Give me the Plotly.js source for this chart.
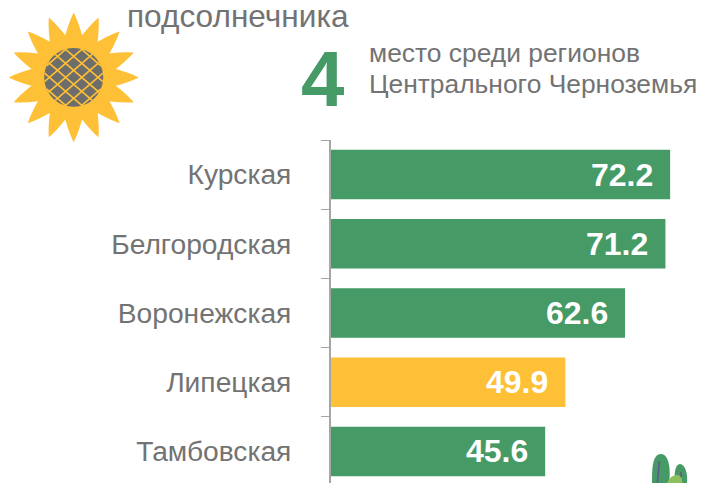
<!DOCTYPE html>
<html>
<head>
<meta charset="utf-8">
<script src="https://cdn.plot.ly/plotly-3.0.1.min.js"></script>
<style>html,body{margin:0;padding:0;background:#fff;overflow:hidden}</style>
</head>
<body>
<div id="chart" style="width:705px;height:483px"></div>
<script>
const regions = ['Курская', 'Белгородская', 'Воронежская', 'Липецкая', 'Тамбовская'];
const values = [72.2, 71.2, 62.6, 49.9, 45.6];
const highlighted = 'Липецкая';
const titleText = 'подсолнечника';
const rankText = '4';
const noteLine1 = 'место среди регионов';
const noteLine2 = 'Центрального Черноземья';

const W = 705, H = 483;
const GREEN = '#459a66', YELLOW = '#fec036', GRAY = '#737373', DISC = '#6d6e6b';
const FONT = '"Liberation Sans", Arial, sans-serif';
const m = {l: 331, r: 0, t: 139.5, b: 0};
const pw = W - m.l - m.r, ph = H - m.t - m.b;
const X = x => (x - m.l) / pw;
const Y = y => 1 - (y - m.t) / ph;
const P = (x, y) => X(x).toFixed(5) + ',' + Y(y).toFixed(5);

const shapes = [];
function add(path, fill, line, width) {
  shapes.push({type: 'path', xref: 'paper', yref: 'paper', layer: 'above', path: path,
    fillcolor: fill || 'rgba(0,0,0,0)', line: {color: line || 'rgba(0,0,0,0)', width: width || 0}});
}
/* sunflower */
const cx = 73.7, cy = 76.8, n = 16;
let d = '';
for (let i = 0; i < n; i++) {
  const a = -Math.PI / 2 + i * 2 * Math.PI / n, h = Math.PI / n;
  const pol = (r, t) => P(cx + r * Math.cos(t), cy + r * Math.sin(t));
  d += (i ? 'L' : 'M') + pol(43, a - h);
  d += 'Q' + pol(56, a - h * 0.42) + ' ' + pol(65, a);
  d += 'Q' + pol(56, a + h * 0.42) + ' ' + pol(43, a + h);
}
add(d + 'Z', YELLOW);
/* seed disc */
const R = 29.5;
let c = 'M' + P(cx + R, cy);
for (let i = 1; i <= 48; i++) {
  const t = i / 48 * 2 * Math.PI;
  c += 'L' + P(cx + R * Math.cos(t), cy + R * Math.sin(t));
}
add(c + 'Z', DISC);
/* lattice */
[Math.PI / 4.4, -Math.PI / 4.4].forEach(t => {
  const ux = Math.cos(t), uy = Math.sin(t), nx = -uy, ny = ux;
  for (let k = -2.5; k <= 2.5; k++) {
    const o = k * 10.6, half = Math.sqrt(R * R - o * o);
    add('M' + P(cx + nx * o - ux * half, cy + ny * o - uy * half) +
        'L' + P(cx + nx * o + ux * half, cy + ny * o + uy * half), null, YELLOW, 1.6);
  }
});
/* leaves, bottom right */
add('M' + P(652, 483) + 'C' + P(652, 470) + ' ' + P(652, 454) + ' ' + P(661, 454) +
    'C' + P(669, 454) + ' ' + P(671, 470) + ' ' + P(669, 483) + 'Z', GREEN);
add('M' + P(675, 483) + 'C' + P(674, 474) + ' ' + P(675, 464) + ' ' + P(680, 464) +
    'C' + P(685, 464) + ' ' + P(688, 474) + ' ' + P(687, 483) + 'Z', GREEN);
add('M' + P(667, 483) + 'C' + P(669, 478) + ' ' + P(673, 475) + ' ' + P(677, 475) +
    'C' + P(681, 475) + ' ' + P(683, 480) + ' ' + P(682, 483) + 'Z', '#8cc05e');
add('M' + P(659.3, 461) + 'L' + P(657.4, 483), null, '#5f5a90', 1.6);
add('M' + P(681, 472) + 'L' + P(681, 477), null, '#5f5a90', 1.6);

const textAnn = (text, x, y, size, color) => ({
  text: text, xref: 'paper', yref: 'paper', x: X(x), y: Y(y), showarrow: false,
  xanchor: 'left', yanchor: 'middle', align: 'left',
  font: {family: FONT, size: size, color: color}
});

const annotations = [
  textAnn(titleText, 125, 15.5, 31.6, GRAY),
  textAnn('<b>' + rankText + '</b>', 299, 78, 78, GREEN),
  textAnn(noteLine1, 367, 52, 26.4, GRAY),
  textAnn(noteLine2, 367, 83, 26.4, GRAY)
];
regions.forEach((r, i) => annotations.push({
  x: values[i], y: r, xref: 'x', yref: 'y', text: '<b>' + values[i].toFixed(1) + '</b>',
  showarrow: false, xanchor: 'right', yanchor: 'middle', xshift: -15.5,
  font: {family: FONT, size: 32, color: '#ffffff'}
}));

Plotly.newPlot('chart', [{
  type: 'bar', orientation: 'h', y: regions, x: values,
  width: 0.715,
  marker: {color: regions.map(r => r === highlighted ? YELLOW : GREEN), line: {width: 0}},
  hoverinfo: 'skip'
}], {
  width: W, height: H, margin: m, paper_bgcolor: '#fff', plot_bgcolor: '#fff',
  showlegend: false, shapes: shapes, annotations: annotations,
  xaxis: {visible: false, range: [0, pw / 4.697], fixedrange: true},
  yaxis: {
    type: 'category', categoryorder: 'array', categoryarray: regions,
    range: [ -0.5 + ph / 69.3, -0.5], tickson: 'boundaries', ticks: 'outside', ticklen: 8,
    tickcolor: '#a6a6a6', tickwidth: 1, showline: true, linecolor: '#a6a6a6', linewidth: 2,
    showgrid: false, zeroline: false, ticklabelstandoff: 32,
    tickfont: {family: FONT, size: 28.2, color: GRAY}
  }
}, {staticPlot: true, displayModeBar: false});
</script>
</body>
</html>
